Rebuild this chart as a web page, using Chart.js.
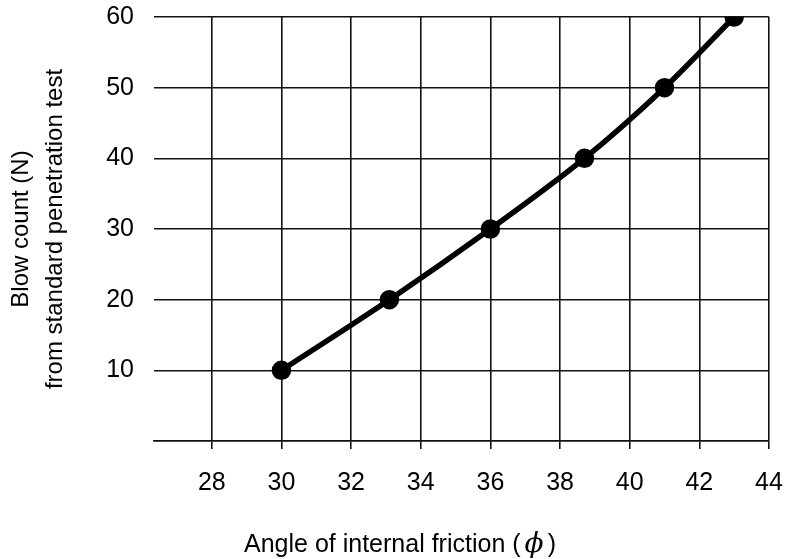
<!DOCTYPE html>
<html>
<head>
<meta charset="utf-8">
<script src="https://cdn.jsdelivr.net/npm/chart.js@4/dist/chart.umd.min.js"></script>
<style>
  html, body { margin: 0; padding: 0; background: #fff; }
  #wrap { width: 786px; height: 559px; }
</style>
</head>
<body>
<div id="wrap"><canvas id="grafico"></canvas></div>
<script>
// datos
const angulos = [30, 33.1, 36, 38.7, 41, 43];
const golpes = [10, 20, 30, 40, 50, 60];
const ticksX = [28, 30, 32, 34, 36, 38, 40, 42, 44];
const ticksY = [0, 10, 20, 30, 40, 50, 60];
const tituloX = "Angle of internal friction (";
const tituloY = ["Blow count (N)", "from standard penetration test"];

const fuente = "'Liberation Sans', Arial, Helvetica, sans-serif";

// titulo del eje x dibujado a mano (centrado en la figura, con phi en cursiva)
const pluginTituloX = {
    id: "tituloX",
    afterDraw(chart) {
        const c = chart.ctx;
        c.save();
        c.fillStyle = "#000";
        c.textBaseline = "alphabetic";
        c.font = "25px " + fuente;
        const w1 = c.measureText(tituloX).width;
        c.font = "italic 28px 'DejaVu Serif', serif";
        const wPhi = c.measureText("\u03D5").width;
        c.font = "25px " + fuente;
        const w2 = c.measureText(")").width;
        const total = w1 + 4 + wPhi + 4 + w2;
        let x = 400 - total / 2;
        const y = 552;
        c.textAlign = "left";
        c.fillText(tituloX, x, y);
        x += w1 + 4;
        c.font = "italic 28px 'DejaVu Serif', serif";
        c.fillText("\u03D5", x, y);
        x += wPhi + 4;
        c.font = "25px " + fuente;
        c.fillText(")", x, y);
        c.restore();
    },
};

const ctx = document.getElementById("grafico").getContext("2d");
new Chart(ctx, {
    type: "scatter",
    data: {
        datasets: [{
            data: angulos.map((a, i) => ({ x: a, y: golpes[i] })),
            showLine: true,
            borderColor: "#000",
            backgroundColor: "#000",
            borderWidth: 5.5,
            pointRadius: 7,
            pointHoverRadius: 7,
            tension: 0.3,
        }],
    },
    plugins: [pluginTituloX],
    options: {
        responsive: true,
        maintainAspectRatio: false,
        animation: false,
        layout: { padding: 0 },
        plugins: { legend: { display: false }, tooltip: { enabled: false } },
        scales: {
            x: {
                type: "linear",
                min: 26.34,
                max: 44,
                afterBuildTicks: (eje) => { eje.ticks = ticksX.map(v => ({ value: v })); },
                afterFit: (eje) => {
                    eje.height = 559 - 441;
                    eje.paddingLeft = 0;
                    eje.paddingRight = 17;
                },
                grid: { color: "#111", lineWidth: 1.6, tickLength: 8, tickColor: "#111" },
                border: { display: true, color: "#111", width: 1.6 },
                ticks: { color: "#000", font: { family: fuente, size: 25 }, padding: 19, maxRotation: 0 },
            },
            y: {
                type: "linear",
                min: 0,
                max: 60,
                afterBuildTicks: (eje) => { eje.ticks = ticksY.map(v => ({ value: v })); },
                afterFit: (eje) => {
                    eje.width = 154;
                    eje.paddingTop = 17;
                    eje.paddingBottom = 0;
                },
                grid: { color: "#111", lineWidth: 1.6, drawTicks: false },
                border: { display: false },
                ticks: {
                    color: "#000",
                    font: { family: fuente, size: 25 },
                    padding: 20,
                    callback: (v) => (v === 0 ? "" : v),
                },
                title: {
                    display: true,
                    text: tituloY,
                    color: "#000",
                    font: { family: fuente, size: 24, lineHeight: 1.42 },
                    padding: { top: 4, bottom: 0 },
                },
            },
        },
    },
});
</script>
</body>
</html>
